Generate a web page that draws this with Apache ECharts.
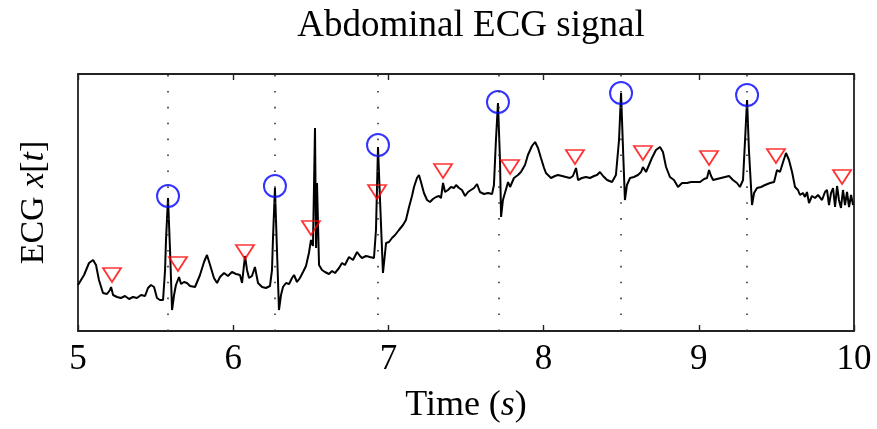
<!DOCTYPE html>
<html>
<head>
<meta charset="utf-8">
<script src="https://cdn.jsdelivr.net/npm/echarts@6/dist/echarts.min.js"></script>
<style>html,body{margin:0;padding:0;background:#fff}#c{width:877px;height:429px}</style>
</head>
<body>
<div id="c"></div>
<script>
// Time axis (s)
const timeSec = [
5.000,5.039,5.071,5.097,5.116,5.135,5.161,5.187,5.206,5.213,
5.226,5.251,5.277,5.303,5.329,5.354,5.380,5.406,5.432,5.451,
5.470,5.490,5.509,5.528,5.548,5.561,5.567,5.580,5.593,5.606,
5.619,5.631,5.651,5.664,5.683,5.702,5.722,5.754,5.786,5.812,
5.831,5.851,5.876,5.896,5.915,5.941,5.966,5.992,6.018,6.044,
6.057,6.076,6.089,6.102,6.121,6.140,6.160,6.186,6.211,6.237,
6.250,6.256,6.269,6.282,6.295,6.308,6.321,6.340,6.360,6.379,
6.392,6.411,6.430,6.450,6.469,6.488,6.501,6.514,6.527,6.534,
6.540,6.553,6.572,6.591,6.617,6.637,6.656,6.682,6.701,6.720,
6.746,6.772,6.798,6.817,6.830,6.856,6.881,6.907,6.920,6.933,
6.946,6.965,6.985,7.004,7.023,7.043,7.068,7.094,7.113,7.133,
7.152,7.165,7.184,7.197,7.210,7.229,7.249,7.268,7.287,7.307,
7.326,7.339,7.352,7.365,7.384,7.403,7.423,7.436,7.455,7.474,
7.494,7.513,7.532,7.552,7.571,7.590,7.616,7.642,7.668,7.680,
7.693,7.706,7.719,7.726,7.738,7.751,7.771,7.784,7.809,7.835,
7.854,7.880,7.899,7.925,7.945,7.964,7.983,8.003,8.015,8.048,
8.073,8.093,8.119,8.144,8.170,8.189,8.209,8.222,8.247,8.273,
8.299,8.325,8.344,8.363,8.383,8.409,8.441,8.466,8.486,8.499,
8.512,8.524,8.537,8.557,8.582,8.608,8.628,8.640,8.660,8.679,
8.698,8.724,8.750,8.769,8.789,8.814,8.840,8.866,8.892,8.924,
8.950,8.982,9.008,9.034,9.053,9.066,9.079,9.092,9.117,9.143,
9.169,9.195,9.220,9.246,9.265,9.285,9.298,9.311,9.323,9.343,
9.356,9.375,9.401,9.427,9.459,9.485,9.504,9.523,9.543,9.562,
9.581,9.601,9.620,9.639,9.652,9.671,9.684,9.697,9.710,9.729,
9.749,9.768,9.794,9.813,9.826,9.839,9.852,9.865,9.878,9.891,
9.903,9.916,9.929,9.942,9.955,9.968,9.981,9.994
];
// ECG amplitude (arbitrary units)
const ecgValues = [
0.46,0.56,0.68,0.71,0.66,0.51,0.38,0.37,0.41,0.44,
0.36,0.34,0.33,0.35,0.32,0.34,0.33,0.36,0.35,0.43,
0.46,0.44,0.33,0.31,0.31,0.61,0.91,1.33,0.81,0.21,
0.36,0.46,0.54,0.47,0.49,0.48,0.45,0.44,0.56,0.69,
0.76,0.66,0.53,0.48,0.54,0.58,0.55,0.59,0.57,0.56,
0.48,0.75,0.61,0.53,0.55,0.64,0.48,0.44,0.43,0.45,
0.61,0.91,1.43,0.81,0.21,0.36,0.44,0.48,0.47,0.53,
0.56,0.49,0.53,0.59,0.65,0.78,0.91,0.85,2.03,0.83,
1.48,0.66,0.61,0.59,0.57,0.60,0.58,0.63,0.68,0.66,
0.74,0.71,0.79,0.75,0.73,0.75,0.74,0.73,1.01,1.84,
1.31,0.58,0.88,0.89,0.93,0.96,1.01,1.06,1.11,1.24,
1.35,1.44,1.53,1.56,1.49,1.38,1.31,1.29,1.32,1.34,
1.35,1.33,1.48,1.39,1.41,1.44,1.43,1.46,1.43,1.41,
1.35,1.39,1.41,1.43,1.47,1.39,1.37,1.38,1.37,1.46,
1.91,2.28,1.71,1.14,1.31,1.38,1.49,1.44,1.53,1.56,
1.59,1.66,1.76,1.85,1.89,1.83,1.73,1.63,1.58,1.53,
1.55,1.56,1.55,1.54,1.53,1.55,1.63,1.51,1.53,1.54,
1.53,1.55,1.56,1.59,1.55,1.51,1.49,1.56,1.91,2.38,
1.81,1.31,1.46,1.53,1.54,1.56,1.59,1.64,1.59,1.66,
1.73,1.81,1.84,1.79,1.64,1.54,1.51,1.44,1.48,1.48,
1.49,1.49,1.49,1.52,1.53,1.61,1.55,1.51,1.52,1.53,
1.54,1.55,1.51,1.48,1.44,1.51,1.91,2.31,1.81,1.26,
1.38,1.43,1.44,1.46,1.48,1.49,1.61,1.59,1.69,1.78,
1.71,1.59,1.44,1.41,1.36,1.38,1.34,1.39,1.28,1.35,
1.33,1.36,1.31,1.39,1.41,1.26,1.38,1.43,1.24,1.45,
1.31,1.23,1.41,1.26,1.39,1.24,1.36,1.26
];
// Maternal R-peak detections (blue circles + dotted lines)
const maternalTimes = [5.580, 6.269, 6.933, 7.706, 8.499, 9.311];
const maternalValues = [1.35, 1.45, 1.86, 2.29, 2.38, 2.36];
// Fetal beat detections (red down-triangles)
const fetalTimes = [5.219, 5.644, 6.076, 6.501, 6.927, 7.352, 7.784, 8.202, 8.640, 9.066, 9.497, 9.923];
const fetalValues = [0.56, 0.67, 0.79, 1.03, 1.39, 1.60, 1.64, 1.74, 1.78, 1.73, 1.75, 1.54];
const xTicks = [5, 6, 7, 8, 9, 10];

const SERIF = 'Liberation Serif';
const chart = echarts.init(document.getElementById('c'), null, {renderer: 'canvas'});
const ecgData = timeSec.map((t, i) => [t, ecgValues[i]]);
const option = {
  animation: false,
  backgroundColor: '#fff',
  title: {
    text: 'Abdominal ECG signal',
    left: 466, top: 3, textAlign: 'center',
    textStyle: {fontFamily: SERIF, fontSize: 37, fontWeight: 'normal', color: '#000'}
  },
  grid: {left: 78, right: 23, top: 74, bottom: 98, show: true, borderColor: '#222', borderWidth: 1.8, backgroundColor: 'transparent'},
  xAxis: [{
    type: 'value', min: xTicks[0], max: xTicks[xTicks.length - 1], interval: 1,
    axisLine: {show: false},
    axisTick: {show: true, inside: true, length: 6, lineStyle: {color: '#222', width: 1.4}},
    splitLine: {show: false},
    axisLabel: {fontFamily: SERIF, fontSize: 35, color: '#000', margin: 11},
    name: 'Time ({i|s})', nameLocation: 'middle', nameGap: 57,
    nameTextStyle: {fontFamily: SERIF, fontSize: 36, color: '#000',
      rich: {i: {fontFamily: SERIF, fontSize: 36, fontStyle: 'italic', color: '#000'}}}
  }, {
    type: 'value', position: 'top', min: xTicks[0], max: xTicks[xTicks.length - 1], interval: 1,
    axisLine: {show: false},
    axisTick: {show: true, inside: true, length: 6, lineStyle: {color: '#222', width: 1.4}},
    axisLabel: {show: false}, splitLine: {show: false}
  }],
  yAxis: {
    type: 'value', min: 0, max: 2.57,
    axisLine: {show: false}, axisTick: {show: false}, axisLabel: {show: false}, splitLine: {show: false},
    name: 'ECG {i|x}[{i|t}]', nameLocation: 'middle', nameGap: 27, nameRotate: 90,
    nameTextStyle: {fontFamily: SERIF, fontSize: 34, color: '#000',
      rich: {i: {fontFamily: SERIF, fontSize: 34, fontStyle: 'italic', color: '#000'}}}
  },
  series: [{
    type: 'line', data: ecgData, showSymbol: false, symbol: 'none',
    lineStyle: {color: '#000', width: 2}, z: 3,
    markLine: {
      silent: true, symbol: ['none', 'none'], label: {show: false},
      lineStyle: {color: '#333', width: 1.6, type: [1.6, 14.3]},
      data: maternalTimes.map(t => ({xAxis: t}))
    }
  }, {
    type: 'scatter', data: maternalTimes.map((t, i) => [t, maternalValues[i]]),
    symbol: 'circle', symbolSize: 22,
    itemStyle: {color: 'rgba(0,0,0,0)', borderColor: '#0000ff', borderWidth: 2}, z: 4
  }, {
    type: 'scatter', data: fetalTimes.map((t, i) => [t, fetalValues[i]]),
    symbol: 'triangle', symbolRotate: 180, symbolSize: [18, 14],
    itemStyle: {color: 'rgba(0,0,0,0)', borderColor: '#ff0000', borderWidth: 1.8}, z: 5
  }]
};
chart.setOption(option);
</script>
</body>
</html>
